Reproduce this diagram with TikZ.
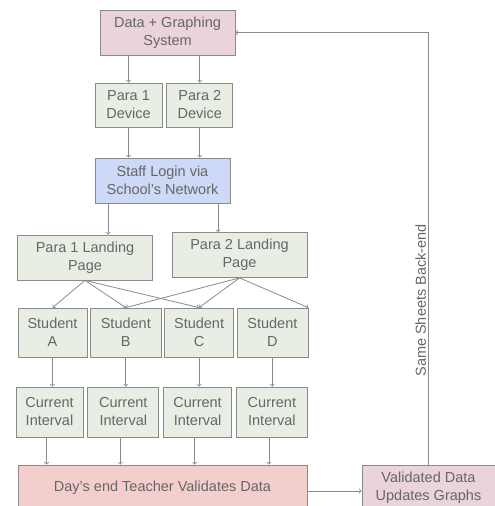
\documentclass[tikz,border=0pt]{standalone}
\usepackage{fontspec}
\setmainfont{Liberation Sans}
\usetikzlibrary{positioning}
\definecolor{linegray}{HTML}{8A8A8A}
\definecolor{textgray}{HTML}{666666}
\definecolor{pinkfill}{HTML}{EAD3DD}
\definecolor{redfill}{HTML}{F4CDCD}
\definecolor{greenfill}{HTML}{E9EEE5}
\definecolor{bluefill}{HTML}{CDD9F6}
\tikzset{basic/.style={draw=linegray,line width=0.8pt,text=textgray,align=center,inner sep=2pt,font=\fontsize{14.5}{18}\selectfont}}
\tikzset{system/.style={basic,fill=pinkfill}}
\tikzset{validate/.style={basic,fill=redfill}}
\tikzset{device/.style={basic,fill=greenfill,minimum height=44pt}}
\tikzset{login/.style={basic,fill=bluefill}}
\tikzset{landing/.style={basic,fill=greenfill,minimum width=135pt,minimum height=45pt}}
\tikzset{student/.style={basic,fill=greenfill,minimum height=49pt}}
\tikzset{interval/.style={basic,fill=greenfill,minimum height=50pt}}
\tikzset{link/.style={draw=linegray,line width=0.8pt,->}}

\begin{document}
\begin{tikzpicture}[x=1pt,y=-1pt]
    \useasboundingbox (0,0) rectangle (495,506);
    \clip (0,0) rectangle (495,506);
        \node[system,minimum width=135pt,minimum height=45pt] (data) at (167.5,32.5) {Data + Graphing\\System};
        \node[device,minimum width=67pt] (dev1) at (128.5,105) {Para 1\\Device};
        \node[device,minimum width=66pt,right=4pt of dev1] (dev2) {Para 2\\Device};
            \path[link] (data.south -| dev1.north) -- (dev1.north);
            \path[link] (data.south -| dev2.north) -- (dev2.north);
        \node[login,minimum width=135pt,minimum height=45pt] (login) at (162.5,180.5) {Staff Login via\\School's Network};
            \path[link] (dev1.south) -- (dev1.south |- login.north);
            \path[link] (dev2.south) -- (dev2.south |- login.north);
        \node[landing] (land1) at (85,257.5) {Para 1 Landing\\Page};
        \node[landing] (land2) at (239.5,255) {Para 2 Landing\\Page};
            \path[link] ([xshift=-54.5pt]login.south) -- ([xshift=-54.5pt]login.south |- land1.north);
            \path[link] ([xshift=55.5pt]login.south) -- ([xshift=55.5pt]login.south |- land2.north);
        % students
        \node[student,minimum width=69pt] (stA) at (52.5,332.5) {Student\\A};
        \node[student,minimum width=71pt,right=2.5pt of stA] (stB) {Student\\B};
        \node[student,minimum width=69pt,right=2.5pt of stB] (stC) {Student\\C};
        \node[student,minimum width=71pt,right=2.5pt of stC] (stD) {Student\\D};
            \path[link] (land1.south) -- (stA.north);
            \path[link] (land1.south) -- (stB.north);
            \path[link] (land1.south) -- (stC.north);
            \path[link] (land2.south) -- (stB.north);
            \path[link] (land2.south) -- (stC.north);
            \path[link] (land2.south) -- (stD.north east);
        % intervals
        \node[interval,minimum width=67pt] (intA) at (49.5,412) {Current\\Interval};
        \node[interval,minimum width=71pt,right=4pt of intA] (intB) {Current\\Interval};
        \node[interval,minimum width=68pt,right=4pt of intB] (intC) {Current\\Interval};
        \node[interval,minimum width=71pt,right=4pt of intC] (intD) {Current\\Interval};
        \foreach \s in {A,B,C,D}
            \path[link] (st\s.south) -- (st\s.south |- int\s.north);
        % day's end
        \node[validate,minimum width=289pt,minimum height=46pt] (days) at (162.5,488) {Day's end Teacher Validates Data};
        \node[system,minimum width=133pt,minimum height=46pt] (updated) at (428.5,488) {Validated Data\\Updates Graphs};
        \foreach \s in {A,B,C,D}
            \path[link] ([xshift=-3pt]int\s.south) -- ([xshift=-3pt]int\s.south |- days.north);
            \path[link] ([yshift=-3pt]days.east) -- ([yshift=-3pt]updated.west);
            \path[link] (updated.north) |- node[pos=0.19,rotate=90,anchor=south,text=textgray,font=\fontsize{14.5}{18}\selectfont,inner sep=2pt] (backend) {Same Sheets Back-end} (data.east);
    \end{tikzpicture}
\end{document}
